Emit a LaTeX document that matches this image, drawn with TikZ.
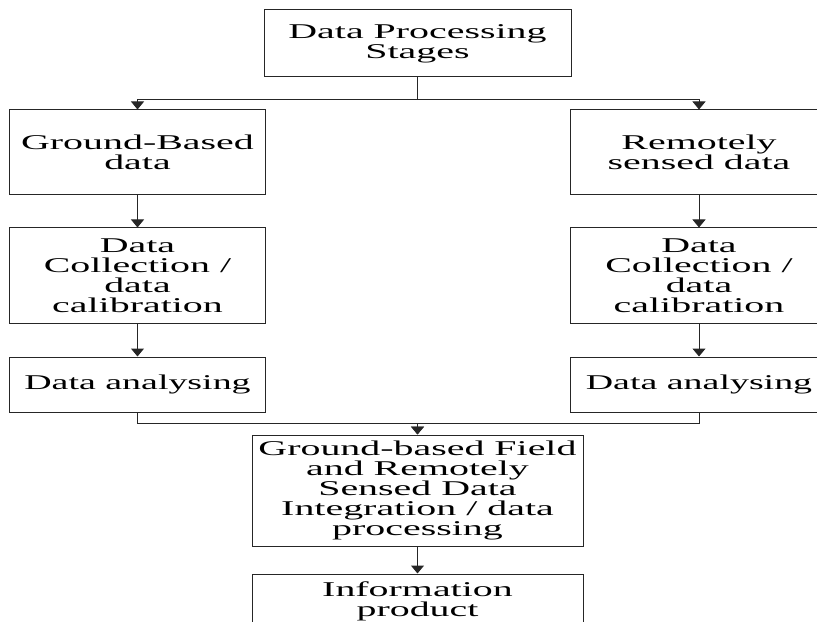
\documentclass[tikz,border=0pt]{standalone}
\usepackage{fontspec}
\setmainfont{Liberation Serif}[FakeStretch=1.9]
\usetikzlibrary{arrows.meta}
\begin{document}
\begin{tikzpicture}[x=1bp,y=-1bp,
  boxnode/.style={draw=black!85,line width=1bp,rectangle,inner sep=0pt,align=center,
    font=\fontsize{21bp}{20bp}\selectfont},
  arr/.style={draw=black!85,line width=1bp,-{Triangle[width=13bp,length=8bp]}}]
\useasboundingbox (0,0) rectangle (817,622);
\clip (0,0) rectangle (817,622);
\node[boxnode,minimum width=307bp,minimum height=67bp] (top) at (417.5,43.5) {Data Processing\\Stages};
\node[boxnode,minimum width=255bp,minimum height=84bp] (l1) at (137.5,152) {Ground-Based\\data};
\node[boxnode,minimum width=258bp,minimum height=84bp] (r1) at (699,152) {Remotely\\sensed data};
\node[boxnode,minimum width=255bp,minimum height=95bp] (l2) at (137.5,275.5) {Data\\Collection /\\data\\calibration};
\node[boxnode,minimum width=258bp,minimum height=95bp] (r2) at (699,275.5) {Data\\Collection /\\data\\calibration};
\node[boxnode,minimum width=255bp,minimum height=55bp] (l3) at (137.5,384.5) {\scalebox{0.95}[1]{Data analysing}};
\node[boxnode,minimum width=258bp,minimum height=55bp] (r3) at (699,384.5) {\scalebox{0.95}[1]{Data analysing}};
\node[boxnode,minimum width=331bp,minimum height=111bp] (int) at (417.5,490.5) {Ground-based Field\\and Remotely\\Sensed Data\\Integration / data\\processing};
\node[boxnode,minimum width=331bp,minimum height=54bp] (info) at (417.5,601) {Information\\product};
\draw[arr] (top.south) -- ++(0,22) -| (l1.north);
\draw[arr] (top.south) -- ++(0,22) -| (r1.north);
\draw[arr] (l1) -- (l2);
\draw[arr] (r1) -- (r2);
\draw[arr] (l2) -- (l3);
\draw[arr] (r2) -- (r3);
\draw[arr] (l3.south) -- ++(0,11) -| (int.north);
\draw[arr] (r3.south) -- ++(0,11) -| (int.north);
\draw[arr] (int) -- (info);
\end{tikzpicture}
\end{document}
